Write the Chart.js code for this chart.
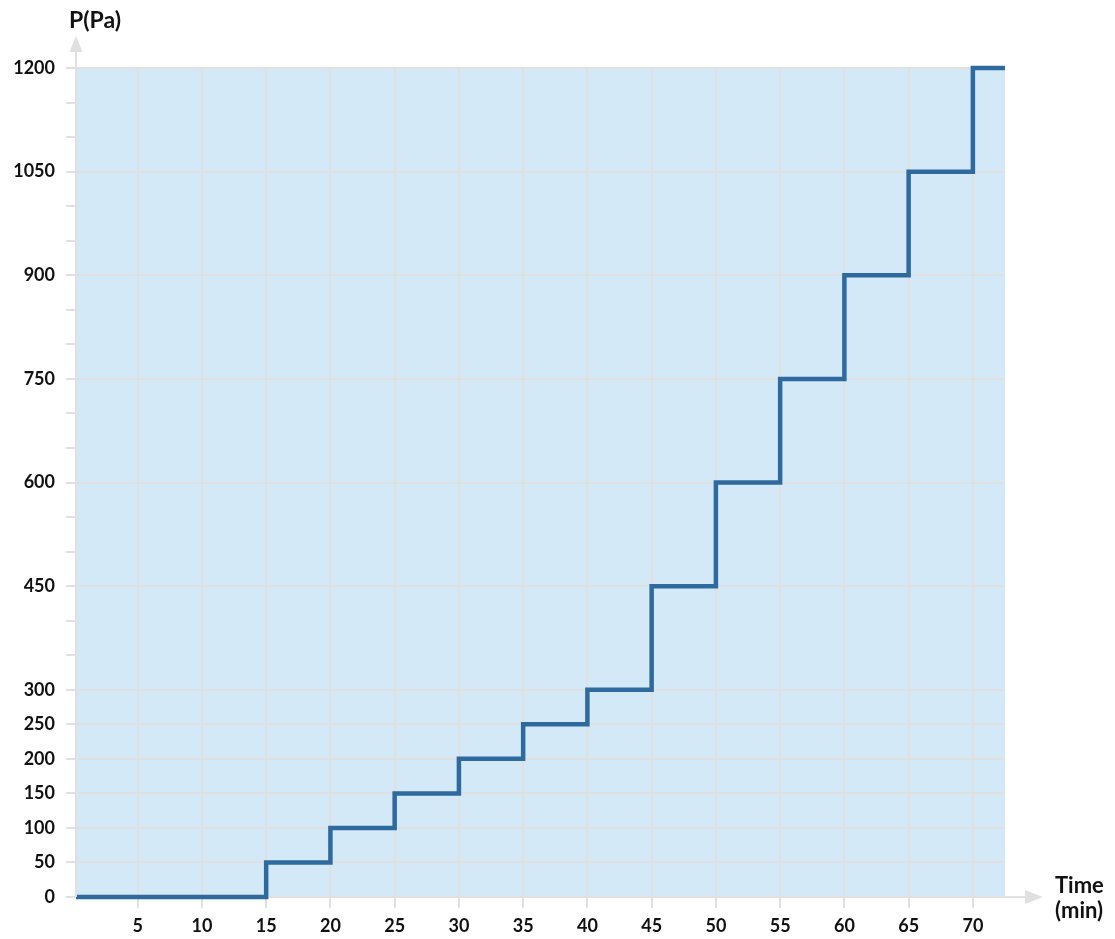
<!DOCTYPE html>
<html>
<head>
<meta charset="utf-8">
<script src="https://cdn.jsdelivr.net/npm/chart.js@4/dist/chart.umd.min.js"></script>
<style>
  body { margin: 0; background: #fff; }
  #wrap { width: 1115px; height: 939px; position: relative; }
</style>
</head>
<body>
<div id="wrap"><canvas id="myChart"></canvas></div>
<script>
// step points: pressure holds until the next time value
const times = [0, 15, 20, 25, 30, 35, 40, 45, 50, 55, 60, 65, 70, 72.5];
const pressures = [0, 50, 100, 150, 200, 250, 300, 450, 600, 750, 900, 1050, 1200, 1200];
const yLabelled = [0, 50, 100, 150, 200, 250, 300, 450, 600, 750, 900, 1050, 1200];

const axisGray = "#e0e0e0";
const fontFam = "Lato, 'Open Sans', sans-serif";

const backdrop = {
  id: "backdrop",
  beforeDraw(chart) {
    const { ctx, chartArea: a } = chart;
    ctx.save();
    ctx.fillStyle = "#d4e9f8";
    ctx.fillRect(a.left, a.top, a.right - a.left, a.bottom - a.top);
    ctx.restore();
  },
  afterDraw(chart) {
    const { ctx, chartArea: a } = chart;
    ctx.save();
    ctx.strokeStyle = axisGray;
    ctx.fillStyle = axisGray;
    ctx.lineWidth = 2;
    // y axis with arrow
    ctx.beginPath();
    ctx.moveTo(a.left, a.bottom);
    ctx.lineTo(a.left, 50);
    ctx.stroke();
    ctx.beginPath();
    ctx.moveTo(a.left, 36);
    ctx.lineTo(a.left - 6.5, 52);
    ctx.lineTo(a.left + 6.5, 52);
    ctx.closePath();
    ctx.fill();
    // x axis arrow past the plot
    ctx.beginPath();
    ctx.moveTo(a.right, a.bottom);
    ctx.lineTo(1027, a.bottom);
    ctx.stroke();
    ctx.beginPath();
    ctx.moveTo(1043, a.bottom);
    ctx.lineTo(1025, a.bottom - 7);
    ctx.lineTo(1025, a.bottom + 7);
    ctx.closePath();
    ctx.fill();

    ctx.fillStyle = "#111";
    ctx.font = "bold 23px " + fontFam;
    ctx.textBaseline = "alphabetic";
    ctx.textAlign = "left";
    ctx.fillText("P(Pa)", 69, 28);
    ctx.font = "bold 22px " + fontFam;
    ctx.fillText("Time", 1055, 893);
    ctx.fillText("(min)", 1055, 918);
    ctx.restore();
  }
};

const data = {
  datasets: [{
    label: "P(Pa)",
    data: times.map((t, i) => ({ x: t, y: pressures[i] })),
    borderColor: "#2e6a9e",
    borderWidth: 4.5,
    stepped: "before",
    pointRadius: 0,
    fill: false,
    clip: { left: 0, top: 6, right: 6, bottom: 6 }
  }]
};

const config = {
  type: "line",
  data: data,
  options: {
    responsive: true,
    maintainAspectRatio: false,
    animation: false,
    layout: { padding: { top: 68, right: 110, left: 0, bottom: 0 } },
    plugins: { legend: { display: false }, tooltip: { enabled: false } },
    scales: {
      x: {
        type: "linear",
        min: 0.2,
        max: 72.5,
        afterFit(s) { s.height = 42; },
        border: { display: false },
        grid: { color: axisGray, lineWidth: 2, tickLength: 11, tickColor: axisGray },
        ticks: {
          stepSize: 5,
          includeBounds: false,
          autoSkip: false,
          maxRotation: 0,
          padding: 7,
          color: "#111",
          font: { family: fontFam, size: 18, weight: "bold" }
        }
      },
      y: {
        type: "linear",
        min: 0,
        max: 1200,
        afterFit(s) { s.width = 76; },
        border: { display: false },
        grid: {
          lineWidth: 2,
          tickLength: 10,
          tickColor: axisGray,
          color: c => yLabelled.includes(c.tick.value) ? axisGray : "rgba(0,0,0,0)"
        },
        ticks: {
          stepSize: 50,
          autoSkip: false,
          padding: 11,
          color: "#111",
          font: { family: fontFam, size: 18, weight: "bold" },
          callback: v => yLabelled.includes(v) ? String(v) : ""
        }
      }
    }
  },
  plugins: [backdrop]
};

const ctx = document.getElementById("myChart").getContext("2d");
new Chart(ctx, config);
</script>
</body>
</html>
